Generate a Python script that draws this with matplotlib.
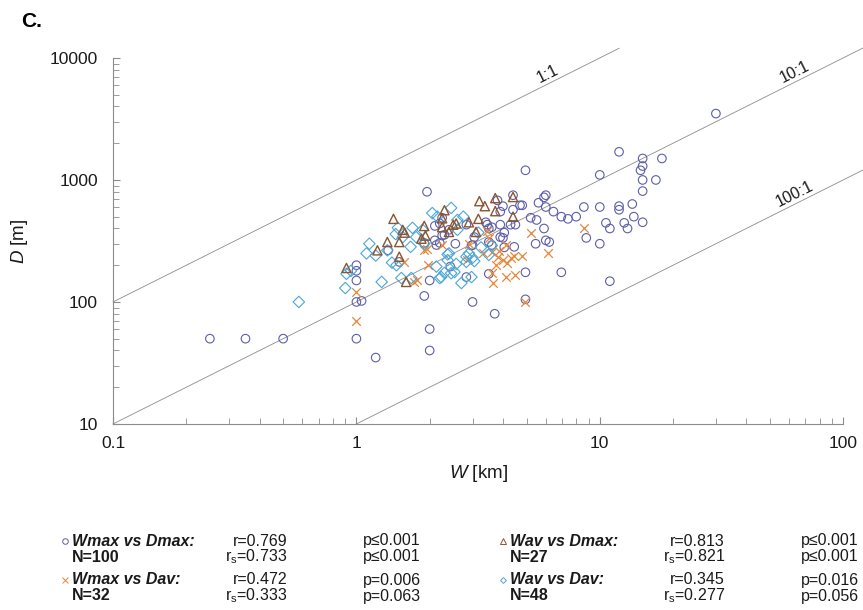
import matplotlib
matplotlib.use('Agg')
import matplotlib.pyplot as plt
from matplotlib.lines import Line2D
import numpy as np

plt.rcParams['font.family'] = ['Liberation Sans', 'DejaVu Sans']
plt.rcParams['mathtext.fontset'] = 'custom'
plt.rcParams['mathtext.rm'] = 'Liberation Sans'
plt.rcParams['mathtext.it'] = 'Liberation Sans:italic'
plt.rcParams['mathtext.bf'] = 'Liberation Sans:bold'

# --- data: W [km], D [m] ---
wmax_dmax_w = [0.25, 0.35, 0.5, 1.0, 1.0, 1.05, 1.0, 1.0, 1.0, 1.2,
               1.95, 1.9, 2.0, 2.0, 2.0, 1.35, 1.5, 1.9, 2.25, 2.25,
               2.1, 2.2, 2.4, 2.43, 3.0, 3.7, 3.0, 3.4, 3.45, 3.5,
               3.8, 4.4, 4.7, 4.0, 4.4, 3.9, 2.2, 2.3, 3.5, 3.05,
               2.97, 3.9, 3.9, 4.3, 4.05, 4.45, 3.5, 4.95, 6.0, 5.9,
               4.8, 5.6, 6.0, 6.45, 6.95, 8.0, 5.2, 5.9, 6.2, 6.0,
               5.45, 6.95, 4.95, 4.95, 4.5, 30, 12, 15, 18, 15,
               14.7, 15, 17, 15, 10, 8.6, 10, 12, 12, 13.6,
               13.8, 15, 12.6, 13, 11, 10.6, 2.1, 8.8, 10, 11,
               2.13, 2.83, 3.6, 4.05, 4.0, 3.6, 2.83, 2.55, 5.5, 7.4]
wmax_dmax_d = [50, 50, 50, 50, 100, 102, 150, 180, 200, 35,
               800, 112, 60, 40, 150, 265, 213, 305, 490, 350,
               320, 305, 390, 195, 100, 80, 293, 450, 430, 170,
               680, 750, 620, 610, 570, 550, 440, 355, 400, 340,
               290, 430, 340, 430, 280, 283, 310, 1200, 750, 720,
               620, 650, 600, 550, 500, 500, 490, 400, 310, 320,
               300, 175, 175, 105, 430, 3500, 1700, 1500, 1500, 1300,
               1200, 1000, 1000, 810, 1100, 600, 600, 610, 570, 635,
               500, 450, 445, 400, 400, 445, 420, 335, 300, 148,
               293, 430, 410, 370, 335, 293, 160, 300, 470, 480]

wmax_dav_w = [1.0, 1.0, 1.57, 1.73, 1.78, 1.9, 1.95, 1.96, 2.25, 2.9,
              3.5, 3.6, 3.8, 4.0, 4.17, 4.1, 4.45, 4.8, 3.6, 4.1,
              4.5, 3.65, 4.95, 5.2, 6.1, 8.6, 3.45, 3.75, 3.85, 3.3,
              2.85, 4.3]
wmax_dav_d = [120, 70, 213, 146, 150, 265, 270, 200, 295, 300,
              335, 258, 235, 220, 208, 293, 240, 240, 172, 160,
              165, 143, 100, 370, 250, 400, 380, 200, 260, 250,
              220, 230]

wav_dmax_w = [0.91, 1.22, 1.34, 1.42, 1.5, 1.55, 1.5, 1.6, 1.9, 1.92,
              2.25, 2.3, 3.2, 3.37, 3.72, 2.25, 2.57, 1.85, 2.4, 2.9,
              3.17, 3.72, 4.4, 4.4, 3.1, 1.58, 2.5]
wav_dmax_d = [190, 265, 310, 480, 310, 390, 235, 146, 420, 350,
              410, 565, 670, 610, 710, 485, 440, 330, 375, 450,
              480, 555, 725, 500, 375, 370, 430]

wav_dav_w = [0.58, 0.9, 0.91, 1.1, 1.13, 1.27, 1.34, 1.4, 1.46, 1.48,
             1.55, 1.67, 1.7, 1.76, 1.68, 2.05, 2.13, 2.23, 2.37, 2.45,
             2.15, 2.6, 2.4, 2.9, 2.45, 2.7, 2.97, 2.83, 3.05, 2.37,
             2.57, 2.53, 2.6, 3.17, 3.25, 2.83, 3.0, 2.3, 3.5, 1.2,
             1.53, 1.87, 1.9, 2.2, 3.6, 1.45, 0.95, 2.75]
wav_dav_d = [100, 130, 170, 250, 300, 146, 265, 210, 200, 405,
             340, 283, 405, 340, 157, 535, 195, 160, 245, 590,
             500, 390, 250, 250, 172, 143, 160, 213, 216, 220,
             205, 176, 470, 370, 280, 235, 230, 173, 243, 240,
             157, 390, 300, 157, 290, 360, 180, 500]

series_names = ['Wmax vs Dmax:', 'Wmax vs Dav:', 'Wav vs Dmax:', 'Wav vs Dav:']
series_n = ['100', '32', '27', '48']
r_vals = ['0.769', '0.472', '0.813', '0.345']
p_vals = ['\u22640.001', '=0.006', '\u22640.001', '=0.016']
rs_vals = ['0.733', '0.333', '0.821', '0.277']
ps_vals = ['\u22640.001', '=0.063', '\u22640.001', '=0.056']

ratios = [1, 10, 100]
ratio_labels = ['1:1', '10:1', '100:1']

xticks = [0.1, 1, 10, 100]
xtick_labels = ['0.1', '1', '10', '100']
yticks = [10, 100, 1000, 10000]
ytick_labels = ['10', '100', '1000', '10000']

# --- styles ---
c_circ = '#5c5fa8'
c_x = '#e5873d'
c_tri = '#8a5530'
c_dia = '#4ba6d6'
gray = '#8c8c8c'
txt = '#1a1a1a'

fig = plt.figure(figsize=(8.63, 6.10), dpi=100)
ax = fig.add_axes([0.131, 0.305, 0.846, 0.600])
ax.set_xscale('log')
ax.set_yscale('log')
ax.set_xlim(0.1, 100)
ax.set_ylim(10, 10000)

# ratio lines W:D (D in m, W in km)
line_start = [0.1, 0.1, 1.0]
line_end = [12, 130, 130]
label_w = [6.1, 63, 63]
for r, lab, w0, w1, wl in zip(ratios, ratio_labels, line_start, line_end, label_w):
    ww = np.array([w0, w1])
    ax.plot(ww, 1000 * ww / r, color=gray, lw=0.6, clip_on=False, zorder=1)
    p1 = ax.transData.transform((1, 1000 / r))
    p2 = ax.transData.transform((10, 10000 / r))
    ang = np.degrees(np.arctan2(p2[1] - p1[1], p2[0] - p1[0]))
    ax.text(wl, 1000 * wl / r * 1.22, lab, rotation=ang, rotation_mode='anchor',
            ha='center', va='center', fontsize=11.5, color=txt, clip_on=False)

ms = 38
ax.scatter(wmax_dmax_w, wmax_dmax_d, s=ms, marker='o', facecolors='none',
           edgecolors=c_circ, linewidths=0.8, zorder=3)
ax.scatter(wmax_dav_w, wmax_dav_d, s=ms, marker='x', color=c_x,
           linewidths=0.9, zorder=3)
ax.scatter(wav_dav_w, wav_dav_d, s=ms - 4, marker='D', facecolors='none',
           edgecolors=c_dia, linewidths=0.8, zorder=3)
ax.scatter(wav_dmax_w, wav_dmax_d, s=ms + 6, marker='^', facecolors='none',
           edgecolors=c_tri, linewidths=1.0, zorder=4)

ax.set_xticks(xticks)
ax.set_xticklabels(xtick_labels)
ax.set_yticks(yticks)
ax.set_yticklabels(ytick_labels)
ax.tick_params(which='both', direction='in', color=gray, labelsize=12.5, labelcolor=txt)
ax.tick_params(which='major', length=5)
ax.tick_params(which='minor', length=4)
ax.tick_params(axis='x', pad=9)
ax.tick_params(axis='y', pad=11)
for s in ['top', 'right']:
    ax.spines[s].set_visible(False)
for s in ['left', 'bottom']:
    ax.spines[s].set_color(gray)
    ax.spines[s].set_linewidth(0.8)

ax.set_xlabel('$\\mathit{W}$ [km]', fontsize=13.5, labelpad=8, color=txt)
ax.set_ylabel('$\\mathit{D}$ [m]', fontsize=13.5, labelpad=14, color=txt)

fig.text(0.025, 0.965, 'C.', fontsize=15, fontweight='bold', va='center')

# stats table under the plot
markers = ['o', 'x', '^', 'D']
colors = [c_circ, c_x, c_tri, c_dia]
col_x = [62, 62, 500, 500]
row_y = [541, 580, 541, 580]
W, H = 863.0, 610.0
fs = 11.5
for i in range(4):
    x0 = col_x[i]
    y0 = row_y[i]
    mk = markers[i]
    fig.add_artist(Line2D([(x0 + 3) / W], [1 - y0 / H], marker=mk, ms=4 if mk != 'D' else 3,
                          mfc='none', mec=colors[i], mew=0.7, transform=fig.transFigure))
    fig.text((x0 + 10) / W, 1 - y0 / H, series_names[i], fontsize=fs, color=txt,
             fontweight='bold', style='italic', va='center')
    fig.text((x0 + 10) / W, 1 - (y0 + 16) / H, 'N=' + series_n[i], fontsize=fs,
             fontweight='bold', va='center', color=txt)
    fig.text((x0 + 225) / W, 1 - y0 / H, 'r=' + r_vals[i], fontsize=fs,
             ha='right', va='center', color=txt)
    fig.text((x0 + 225) / W, 1 - (y0 + 16) / H, '$\\mathregular{r_s}$=' + rs_vals[i],
             fontsize=fs, ha='right', va='center', color=txt)
    fig.text((x0 + 359) / W, 1 - y0 / H, 'p' + p_vals[i], fontsize=fs,
             ha='right', va='center', color=txt)
    fig.text((x0 + 359) / W, 1 - (y0 + 16) / H, 'p' + ps_vals[i], fontsize=fs,
             ha='right', va='center', color=txt)

fig.savefig('out.png', dpi=100)
